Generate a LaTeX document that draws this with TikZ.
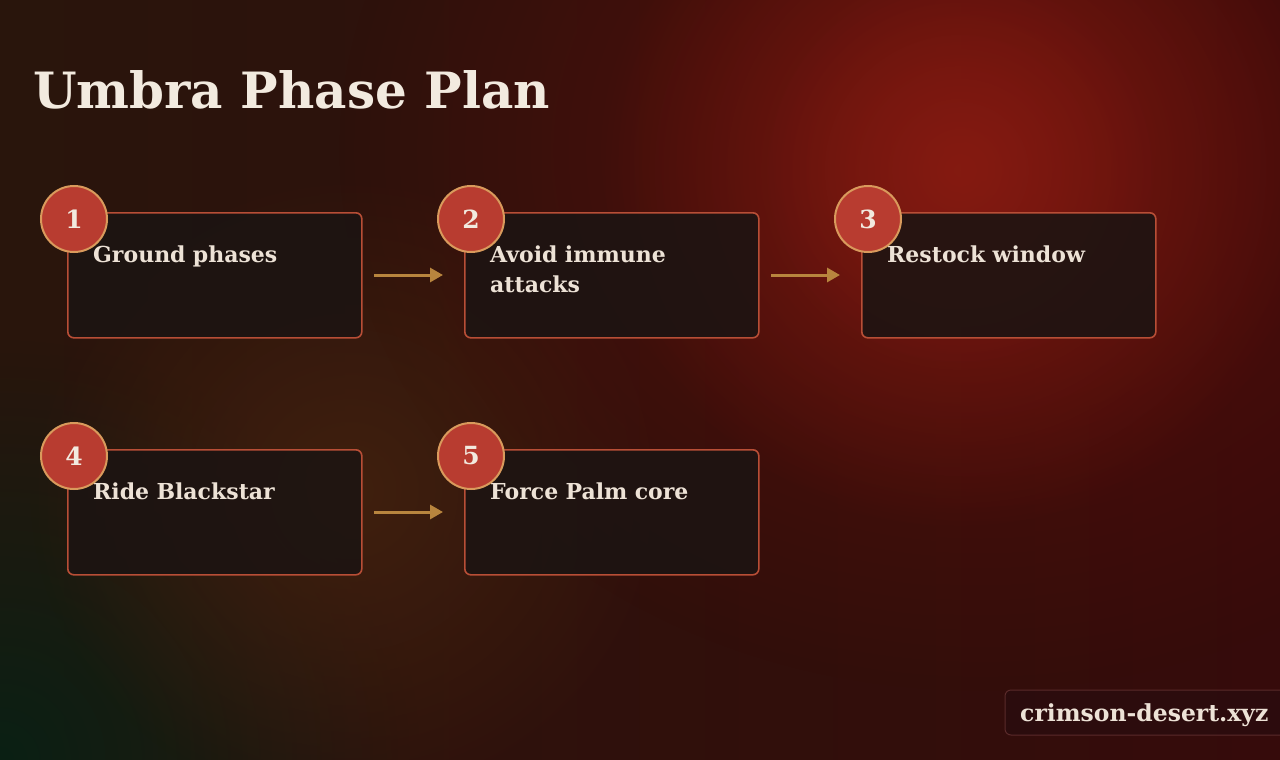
\documentclass[tikz,border=0pt]{standalone}
\usepackage{fontspec}
\setmainfont{DejaVu Serif}
\usetikzlibrary{fadings,arrows.meta}
\definecolor{bgL}{HTML}{29150C}
\definecolor{bgR}{HTML}{360B0B}
\definecolor{glowred}{HTML}{8A1C12}
\definecolor{halored}{HTML}{560E0A}
\definecolor{glowbrown}{HTML}{40200E}
\definecolor{glowgreen}{HTML}{0A2014}
\definecolor{boxfill}{HTML}{1C1412}
\definecolor{boxline}{HTML}{B84E36}
\definecolor{circfill}{HTML}{B83C30}
\definecolor{circline}{HTML}{D99A5C}
\definecolor{arrowcol}{HTML}{B8853E}
\definecolor{txt}{HTML}{EDE2D6}
\definecolor{titlecol}{HTML}{F2EADF}
\definecolor{wmfill}{HTML}{2A0C0E}
\definecolor{wmline}{HTML}{5A2A2A}
\tikzfading[name=glow, inner color=transparent!0, outer color=transparent!100]
\tikzset{
  stepbox/.style={draw=boxline, line width=1.6pt, fill=boxfill, fill opacity=0.88, rounded corners=6pt, minimum width=294pt, minimum height=125pt, anchor=north west, inner sep=0pt},
  numcirc/.style={circle, draw=circline, line width=2pt, fill=circfill, minimum size=66pt, inner sep=0pt, text=titlecol, font=\bfseries\fontsize{25}{25}\selectfont},
  steptext/.style={anchor=north west, inner sep=0pt, text=txt, text width=250pt, align=left, font=\bfseries\fontsize{22}{30}\selectfont},
  flow/.style={draw=arrowcol, line width=3pt, -{Triangle[length=13pt,width=14pt]}}
}
\begin{document}
\begin{tikzpicture}[x=1pt,y=-1pt]
\useasboundingbox (0,0) rectangle (1280,760);
% background
\shade[left color=bgL, right color=bgR] (0,0) rectangle (1280,760);
\fill[glowgreen, path fading=glow] (0,760) circle (420);
\fill[glowbrown, path fading=glow] (350,490) circle (320);
\fill[halored, path fading=glow] (980,150) ellipse (640 and 540);
\fill[glowred, path fading=glow, opacity=0.8] (960,170) circle (360);
\fill[glowred, path fading=glow, opacity=0.5] (960,170) circle (200);
% title
\node[anchor=base west, inner sep=0pt, text=titlecol, font=\bfseries\fontsize{50}{50}\selectfont] (title) at (33,108) {Umbra Phase Plan};
% boxes
\node[stepbox] (b1) at (67,212) {};
\node[stepbox] (b2) at (464,212) {};
\node[stepbox] (b3) at (861,212) {};
\node[stepbox] (b4) at (67,449) {};
\node[stepbox] (b5) at (464,449) {};
% texts
\node[steptext] (t1) at (93,246) {Ground phases};
\node[steptext] (t2) at (490,246) {Avoid immune\\attacks};
\node[steptext] (t3) at (887,246) {Restock window};
\node[steptext] (t4) at (93,483) {Ride Blackstar};
\node[steptext] (t5) at (490,483) {Force Palm core};
% circles
\node[numcirc] (c1) at (74,219) {1};
\node[numcirc] (c2) at (471,219) {2};
\node[numcirc] (c3) at (868,219) {3};
\node[numcirc] (c4) at (74,456) {4};
\node[numcirc] (c5) at (471,456) {5};
% arrows
\coordinate (a1s) at (374,275); \coordinate (a1e) at (443,275);
\coordinate (a2s) at (771,275); \coordinate (a2e) at (840,275);
\coordinate (a3s) at (374,512); \coordinate (a3e) at (443,512);
\draw[flow] (a1s) -- (a1e);
\draw[flow] (a2s) -- (a2e);
\draw[flow] (a3s) -- (a3e);
% watermark
\draw[draw=wmline, line width=1pt, fill=wmfill, fill opacity=0.8, rounded corners=6pt] (1005,690) rectangle (1295,735);
\node[anchor=base west, inner sep=0pt, text=txt, font=\bfseries\fontsize{23.5}{23.5}\selectfont] (wm) at (1020,721) {crimson-desert.xyz};
\end{tikzpicture}
\end{document}
